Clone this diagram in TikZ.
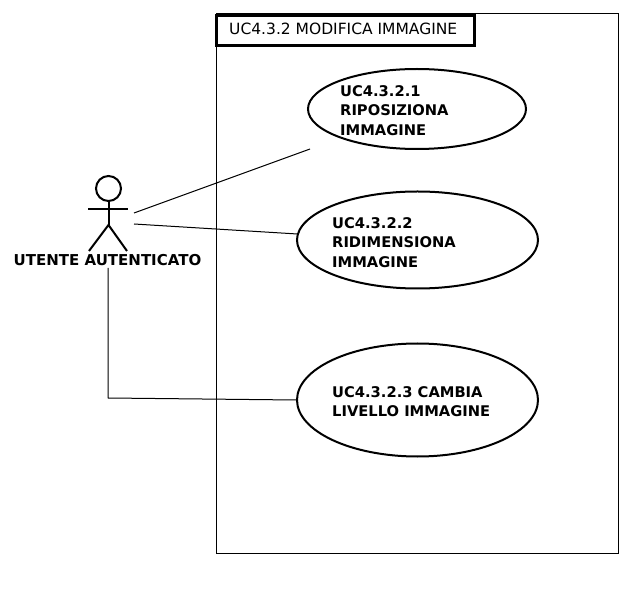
\documentclass[tikz,border=0pt]{standalone}
\usepackage{fontspec}
\setmainfont{DejaVu Sans}
\usetikzlibrary{shapes.geometric}
\tikzset{
 usecase/.style={draw=black,line width=2pt,ellipse,fill=white,inner sep=0pt},
 uclabel/.style={font=\fontsize{14.7}{19.2}\selectfont\bfseries,align=left,anchor=north west,inner sep=0pt},
 conn/.style={draw=black,line width=1pt},
 limb/.style={draw=black,line width=2pt},
}
\begin{document}
\begin{tikzpicture}[x=1pt,y=-1pt]
\useasboundingbox (0,0) rectangle (632,593);
% system boundary
\node[draw=black,line width=1pt,minimum width=402pt,minimum height=539.5pt,inner sep=0pt,anchor=north west] (sys) at (216,13.5) {};
\node[draw=black,line width=3pt,fill=white,minimum width=258pt,minimum height=30pt,inner sep=0pt,anchor=north west] (titlebox) at (215,14) {};
\node[font=\fontsize{15.5}{17}\selectfont,anchor=west,inner sep=0pt] (title) at (229,29) {UC4.3.2 MODIFICA IMMAGINE};
% use cases
\node[usecase,minimum width=218pt,minimum height=80pt] (uc1) at (417,109) {};
\node[usecase,minimum width=241pt,minimum height=97pt] (uc2) at (417.5,240) {};
\node[usecase,minimum width=241pt,minimum height=113pt] (uc3) at (417.5,400) {};
\node[uclabel] (t1) at (340,85.5) {UC4.3.2.1\\RIPOSIZIONA\\IMMAGINE};
\node[uclabel] (t2) at (332,217.5) {UC4.3.2.2\\RIDIMENSIONA\\IMMAGINE};
\node[uclabel] (t3) at (332,386.5) {UC4.3.2.3 CAMBIA\\LIVELLO IMMAGINE};
% actor
\node[draw=black,line width=2pt,circle,minimum size=25pt,inner sep=0pt] (head) at (108.5,188.5) {};
\coordinate (hip) at (108.5,225);
\coordinate (armL) at (88,209.5);
\coordinate (armR) at (128,209.5);
\coordinate (footL) at (89,251);
\coordinate (footR) at (127,251);
\draw[limb] (head.south) -- (hip);
\draw[limb] (armL) -- (armR);
\draw[limb] (footL) -- (hip) -- (footR);
\node[font=\fontsize{15}{17}\selectfont\bfseries,inner sep=0pt] (actor) at (107.5,260) {UTENTE AUTENTICATO};
% connectors
\coordinate (a1) at (134,213);
\coordinate (a2) at (134,224);
\coordinate (a3) at (108,268);
\coordinate (e1) at (310,149);
\coordinate (e2) at (297.5,234);
\coordinate (bend) at (108,398);
\draw[conn] (a1) -- (e1);
\draw[conn] (a2) -- (e2);
\draw[conn] (a3) -- (bend) -- (uc3.west);
\end{tikzpicture}
\end{document}
